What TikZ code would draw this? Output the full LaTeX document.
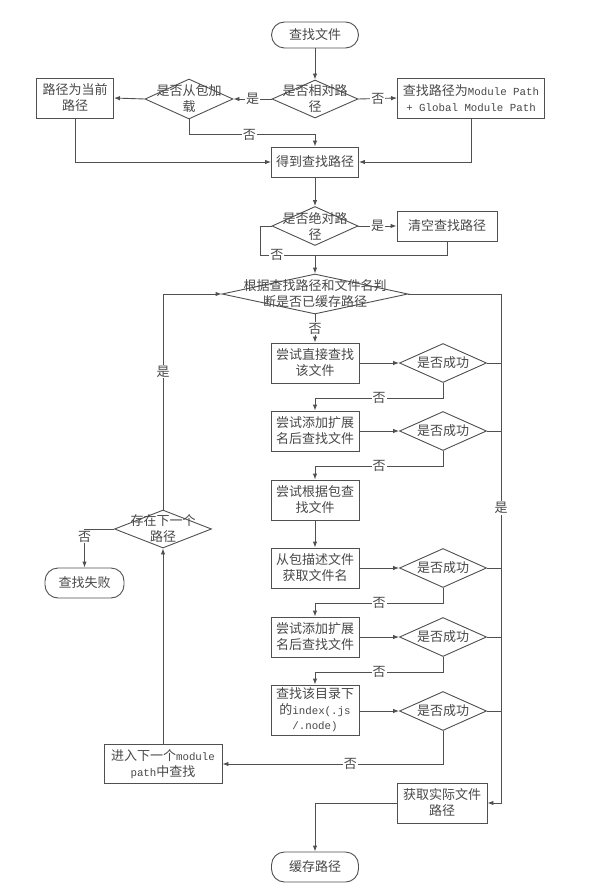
\documentclass[tikz,border=0pt]{standalone}
\usepackage{fontspec}
\usepackage{xcolor}
\usepackage{tikz}
\usetikzlibrary{arrows.meta,shapes.geometric}
\newfontfamily\cjk{Noto Sans CJK SC}
\setmonofont{Liberation Mono}[Scale=0.83]
\definecolor{line}{HTML}{505050}
\definecolor{ink}{HTML}{484848}
\tikzset{
  box/.style={draw=line, line width=0.9pt, fill=white, align=center, text=ink,
    font=\cjk\fontsize{13}{16}\selectfont, inner sep=0pt, minimum height=40pt},
  term/.style={box, rounded corners=13pt, minimum height=30pt},
  dec/.style={diamond, draw=line, line width=0.9pt, fill=white, inner sep=0pt,
    minimum height=39pt},
  dtxt/.style={align=center, text=ink, font=\cjk\fontsize{13}{16}\selectfont, inner sep=0pt},
  yn/.style={fill=white, text=ink, font=\cjk\fontsize{13}{15}\selectfont, inner sep=1pt},
  ln/.style={draw=line, line width=0.9pt},
  arr/.style={ln, -{Latex[length=6pt,width=4.5pt]}}
}
\begin{document}
\begin{tikzpicture}[x=1pt, y=-1pt]
  \useasboundingbox (0,0) rectangle (615,893);

  % top part
  \node[term, minimum width=87pt, minimum height=26pt] (start) at (315,35) {查找文件};
  \node[dec, minimum width=86pt, minimum height=38pt, label={[dtxt]center:是否相对路\\径}] (rel) at (315,99) {};
  \node[dec, minimum width=88pt, minimum height=40pt, label={[dtxt]center:是否从包加\\载}] (pkg) at (189,99) {};
  \node[box, minimum width=77pt] (cur) at (75,98) {路径为当前\\路径};
  \node[box, minimum width=147pt] (mod) at (471,98) {查找路径为\texttt{Module Path}\\\texttt{+ Global Module Path}};
  \node[box, minimum width=87pt, minimum height=30pt] (got) at (315,162) {得到查找路径};
  \node[dec, minimum width=86pt, label={[dtxt]center:是否绝对路\\径}] (abs) at (315,226) {};
  \node[box, minimum width=100pt, minimum height=30pt] (clr) at (447,226) {清空查找路径};
  \node[dec, minimum width=186pt, minimum height=40pt, label={[dtxt]center:根据查找路径和文件名判\\断是否已缓存路径}] (cache) at (315,294) {};
  \coordinate (jn) at (315,255);
  \coordinate (rt) at (501,294);

  % search steps
  \node[box, minimum width=88pt] (try1) at (315,363) {尝试直接查找\\该文件};
  \node[dec, minimum width=87pt, label={[dtxt]center:是否成功}] (ok1) at (443,363) {};
  \node[box, minimum width=88pt] (try2) at (315,431) {尝试添加扩展\\名后查找文件};
  \node[dec, minimum width=87pt, label={[dtxt]center:是否成功}] (ok2) at (443,431) {};
  \node[box, minimum width=88pt] (try3) at (315,500) {尝试根据包查\\找文件};
  \node[box, minimum width=88pt] (try4) at (315,568) {从包描述文件\\获取文件名};
  \node[dec, minimum width=87pt, label={[dtxt]center:是否成功}] (ok3) at (443,568) {};
  \node[box, minimum width=88pt] (try5) at (315,637) {尝试添加扩展\\名后查找文件};
  \node[dec, minimum width=87pt, label={[dtxt]center:是否成功}] (ok4) at (443,637) {};
  \node[box, minimum width=88pt, minimum height=50pt, font=\cjk\fontsize{13}{15.5}\selectfont] (try6) at (315,710) {查找该目录下\\的\texttt{index(.js}\\\texttt{/.node)}};
  \node[dec, minimum width=87pt, label={[dtxt]center:是否成功}] (ok5) at (443,711) {};

  % left loop and bottom
  \node[box, minimum width=118pt, minimum height=39pt] (next) at (163,764) {进入下一个\texttt{module}\\\texttt{path}中查找};
  \node[dec, minimum width=97pt, minimum height=38pt, label={[dtxt]center:存在下一个\\路径}] (more) at (163,529) {};
  \node[term, minimum width=79pt] (fail) at (84.5,583) {查找失败};
  \node[box, minimum width=90pt] (real) at (442,803) {获取实际文件\\路径};
  \node[term, minimum width=87pt] (save) at (315,867) {缓存路径};

  % connectors
  \draw[arr] (start) -- (rel);
  \draw[arr] (rel.west) -- node[yn]{是} (pkg.east);
  \draw[arr] (rel.east) -- node[yn]{否} (mod.west);
  \draw[arr] (pkg.west) -- (cur.east);
  \draw[arr] (pkg.south) -- ++(0,15) -| node[yn, pos=0.24]{否} (got.north);
  \draw[arr] (cur.south) |- (got.west);
  \draw[arr] (mod.south) |- (got.east);
  \draw[arr] (got) -- (abs);
  \draw[arr] (abs.east) -- node[yn]{是} (clr.west);
  \draw[ln] (abs.west) -- ++(-11,0) |- node[yn, pos=0.65]{否} (jn);
  \draw[ln] (clr.south) |- (jn);
  \draw[arr] (jn) -- (cache.north);
  \draw[arr] (cache.south) -- node[yn]{否} (try1.north);
  \draw[arr] (cache.east) -- (rt) |- node[yn, pos=0.21]{是} (real.east);

  \draw[arr] (try1) -- (ok1);
  \draw[arr] (try2) -- (ok2);
  \draw[arr] (try4) -- (ok3);
  \draw[arr] (try5) -- (ok4);
  \draw[arr] (try6.east |- ok5) -- (ok5);
  \draw[ln] (ok1.east) -- (ok1.east -| rt);
  \draw[ln] (ok2.east) -- (ok2.east -| rt);
  \draw[ln] (ok3.east) -- (ok3.east -| rt);
  \draw[ln] (ok4.east) -- (ok4.east -| rt);
  \draw[ln] (ok5.east) -- (ok5.east -| rt);
  \draw[arr] (ok1.south) -- ++(0,15) -| node[yn, pos=0.25]{否} (try2.north);
  \draw[arr] (ok2.south) -- ++(0,15) -| node[yn, pos=0.25]{否} (try3.north);
  \draw[arr] (try3) -- (try4);
  \draw[arr] (ok3.south) -- ++(0,15) -| node[yn, pos=0.25]{否} (try5.north);
  \draw[arr] (ok4.south) -- ++(0,15) -| node[yn, pos=0.25]{否} (try6.north);
  \draw[arr] (ok5.south) |- node[yn, pos=0.71]{否} (next.east);

  \draw[arr] (next) -- (more);
  \draw[arr] (more.north) |- node[yn, pos=0.32]{是} (cache.west);
  \draw[arr] (more.west) -| node[yn, pos=0.6]{否} (fail.north);
  \draw[arr] (real.west) -| (save.north);
\end{tikzpicture}
\end{document}
